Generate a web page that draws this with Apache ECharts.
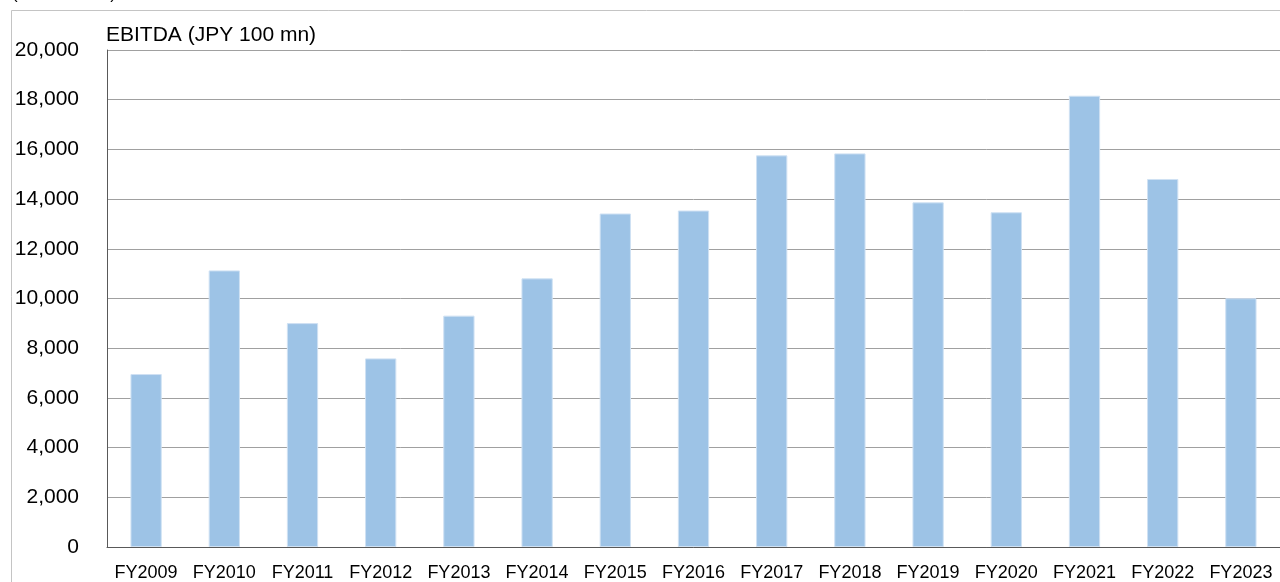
<!DOCTYPE html>
<html>
<head>
<meta charset="utf-8">
<script src="https://cdn.jsdelivr.net/npm/echarts@6/dist/echarts.min.js"></script>
<style>
html,body{margin:0;padding:0;background:#fff;}
#chart{width:1280px;height:582px;}
</style>
</head>
<body>
<div id="chart"></div>
<script>
const categories = ['FY2009','FY2010','FY2011','FY2012','FY2013','FY2014','FY2015','FY2016','FY2017','FY2018','FY2019','FY2020','FY2021','FY2022','FY2023'];
const ebitda = [6960, 11130, 9010, 7590, 9310, 10810, 13420, 13540, 15760, 15840, 13870, 13470, 18160, 14810, 10010];
const seriesName = 'EBITDA (JPY 100 mn)';
const unitLabel = '(JPY 100 mn)';

const chart = echarts.init(document.getElementById('chart'), null, {renderer:'canvas'});
chart.setOption({
  animation: false,
  backgroundColor: '#ffffff',
  textStyle: { fontFamily: 'Arial, "Liberation Sans", sans-serif' },
  title: {
    text: seriesName,
    left: 106,
    top: 25,
    padding: 0,
    textStyle: { fontSize: 21, fontWeight: 'normal', color: '#000', fontFamily: 'Arial, "Liberation Sans", sans-serif' }
  },
  graphic: [
    { type: 'rect', shape: { x: 11.5, y: 10.5, width: 1400, height: 700 }, style: { fill: 'none', stroke: '#c4c4c4', lineWidth: 1 }, z: -1 },
    { type: 'text', x: 12, y: -14, style: { text: unitLabel, fill: '#000', font: '17px Arial, "Liberation Sans", sans-serif' } }
  ],
  grid: { left: 107, right: 0, top: 50, bottom: 35, containLabel: false },
  xAxis: {
    type: 'category',
    data: categories,
    axisLine: { lineStyle: { color: '#595959', width: 1 } },
    axisTick: { show: false },
    axisLabel: { fontSize: 18, color: '#000', margin: 17, interval: 0 }
  },
  yAxis: {
    type: 'value',
    min: 0, max: 20000, interval: 2000,
    axisLine: { show: true, lineStyle: { color: '#595959', width: 1 } },
    axisTick: { show: false },
    splitLine: { lineStyle: { color: '#a0a0a0', width: 1 } },
    axisLabel: { fontSize: 21, color: '#000', margin: 28, padding: [0, 0, 3, 0],
      formatter: v => v.toLocaleString('en-US') }
  },
  series: [{
    type: 'bar',
    name: seriesName,
    data: ebitda,
    barWidth: '40%',
    itemStyle: { color: '#9dc3e6', borderColor: '#cfe1f3', borderWidth: 1 }
  }]
});
</script>
</body>
</html>
